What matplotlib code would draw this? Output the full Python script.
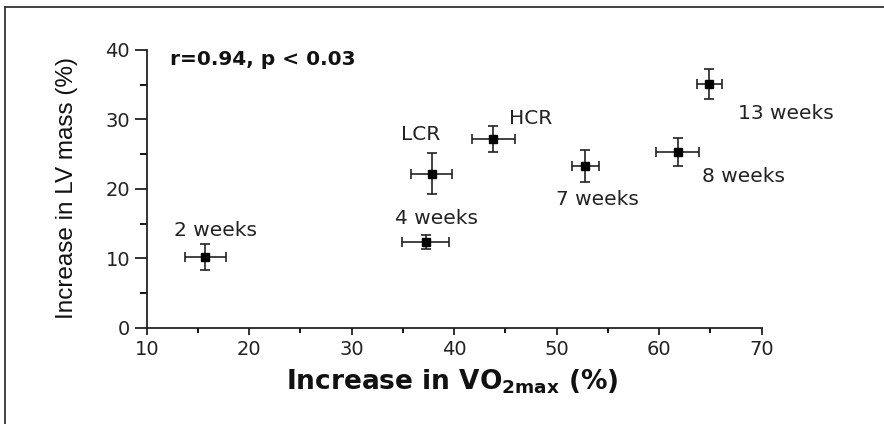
import matplotlib
matplotlib.use("Agg")
import matplotlib.pyplot as plt
from matplotlib.lines import Line2D
from matplotlib.ticker import MultipleLocator

plt.rcParams['mathtext.fontset'] = 'custom'
plt.rcParams['mathtext.rm'] = 'DejaVu Sans'
plt.rcParams['mathtext.bf'] = 'DejaVu Sans:bold'

# Data
groups = ["2 weeks", "LCR", "4 weeks", "HCR", "7 weeks", "8 weeks", "13 weeks"]
vo2_increase = [15.7, 37.8, 37.2, 43.8, 52.8, 61.8, 64.9]
vo2_err = [2.0, 2.0, 2.3, 2.1, 1.3, 2.1, 1.25]
lv_increase = [10.2, 22.2, 12.3, 27.2, 23.3, 25.3, 35.1]
lv_err = [1.9, 2.9, 1.0, 1.9, 2.35, 2.0, 2.1]
label_x = [16.7, 36.7, 38.3, 47.5, 54.0, 68.2, 72.4]
label_y = [14.0, 27.8, 15.8, 30.1, 18.4, 21.8, 30.8]
x_ticks = [10, 20, 30, 40, 50, 60, 70]
y_ticks = [0, 10, 20, 30, 40]
stat_text = "r=0.94, p < 0.03"

fig = plt.figure(figsize=(8.84, 4.24), dpi=100)
ax = fig.add_axes([0.166, 0.2271, 0.6957, 0.655])

ax.errorbar(vo2_increase, lv_increase, xerr=vo2_err, yerr=lv_err,
            fmt='s', color='black', ms=6.3, elinewidth=1.2, capsize=3.6,
            capthick=1.2, ecolor='#222222')

for g, lx, ly in zip(groups, label_x, label_y):
    ax.text(lx, ly, g, ha='center', va='center', fontsize=14.5,
            family='DejaVu Sans', color='#222222')

ax.text(12.25, 38.6, stat_text, ha='left', va='center', fontsize=14.5,
        family='DejaVu Sans', fontweight='bold', color='#111111')

ax.set_xlim(10, 70)
ax.set_ylim(0, 40)
ax.set_xticks(x_ticks)
ax.set_yticks(y_ticks)
ax.xaxis.set_minor_locator(MultipleLocator(5))
ax.yaxis.set_minor_locator(MultipleLocator(5))
for s in ['top', 'right']:
    ax.spines[s].set_visible(False)
for s in ['left', 'bottom']:
    ax.spines[s].set_linewidth(1.3)
    ax.spines[s].set_color('#222222')

ax.tick_params(axis='x', which='major', direction='out', length=5, width=1.3,
               pad=4, labelsize=14, colors='#222222')
ax.tick_params(axis='x', which='minor', direction='out', length=3.5, width=1.3)
ax.tick_params(axis='y', which='major', direction='out', length=9, width=1.3,
               pad=3, labelsize=14, colors='#222222')
ax.tick_params(axis='y', which='minor', direction='out', length=5, width=1.3)
for lab in ax.get_xticklabels() + ax.get_yticklabels():
    lab.set_family('DejaVu Sans')

fig.text(452/884, 1 - 382/424, r"Increase in VO$_{\mathbf{2max}}$ (%)", fontsize=19,
         fontweight='bold', family='DejaVu Sans', ha='center', va='center',
         color='#111111')
fig.text(67/884, 1 - 188/424, "Increase in LV mass (%)", fontsize=17.5,
         family='Liberation Sans', rotation=90, ha='center', va='center',
         color='#111111')

# figure border (left and top)
fig.add_artist(Line2D([5.0/884, 5.0/884], [0, 1 - 6.5/424], transform=fig.transFigure,
                      color='#333333', lw=1.3))
fig.add_artist(Line2D([5.0/884, 1], [1 - 6.5/424, 1 - 6.5/424], transform=fig.transFigure,
                      color='#333333', lw=1.3))

fig.savefig("out.png", dpi=100)
